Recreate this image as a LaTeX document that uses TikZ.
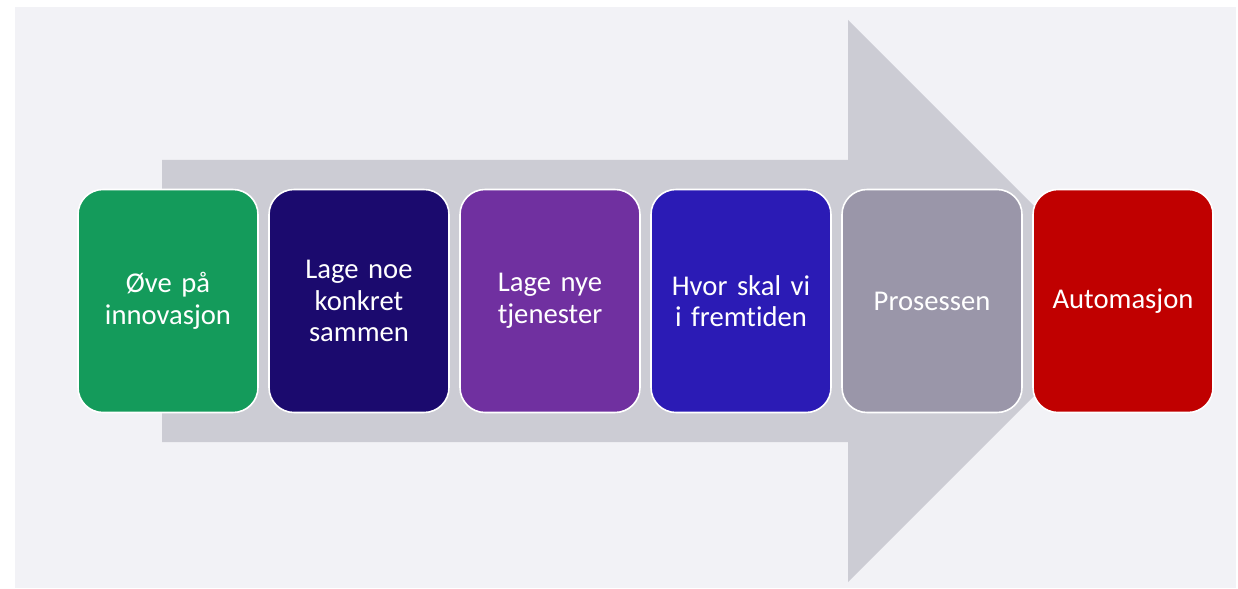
\documentclass[tikz,border=0pt]{standalone}
\usepackage{fontspec}
\setmainfont[Ligatures={NoCommon},WordSpace=0.85]{Carlito}
\definecolor{bgcol}{HTML}{F2F2F6}
\definecolor{arrowcol}{HTML}{CCCCD4}
\definecolor{col1}{HTML}{149B5B}
\definecolor{col2}{HTML}{1B0A6E}
\definecolor{col3}{HTML}{7030A0}
\definecolor{col4}{HTML}{2B1BB5}
\definecolor{col5}{HTML}{9A96A9}
\definecolor{col6}{HTML}{C00000}
\tikzstyle{stage}=[rectangle,rounded corners=0.5cm,draw=white,line width=0.9pt,minimum width=3.6cm,minimum height=4.46cm,inner sep=0pt,text width=3.4cm,align=center,text=white,font=\fontsize{16.3}{18}\selectfont]

\begin{document}
\begin{tikzpicture}
\useasboundingbox (0,0) rectangle (24.76,-11.78);
\fill[bgcol] (0.30,-0.14) rectangle (24.72,-11.76);
\fill[arrowcol] (3.24,-3.20) -- (16.96,-3.20) -- (16.96,-0.40) -- (22.58,-6.02)
  -- (16.96,-11.64) -- (16.96,-8.84) -- (3.24,-8.84) -- cycle;

\node[stage, fill=col1] (1) at (3.36, -6.02)  {Øve på\\innovasjon};
\node[stage, fill=col2] (2) at (7.18, -6.02)  {Lage noe\\konkret\\sammen};
\node[stage, fill=col3] (3) at (11.00, -6.02) {Lage nye\\tjenester};
\node[stage, fill=col4] (4) at (14.82, -6.02) {Hvor skal vi\\i fremtiden};
\node[stage, fill=col5] (5) at (18.64, -6.02) {Prosessen};
\node[stage, fill=col6] (6) at (22.46, -6.02) {Automasjon};

\end{tikzpicture}
\end{document}
